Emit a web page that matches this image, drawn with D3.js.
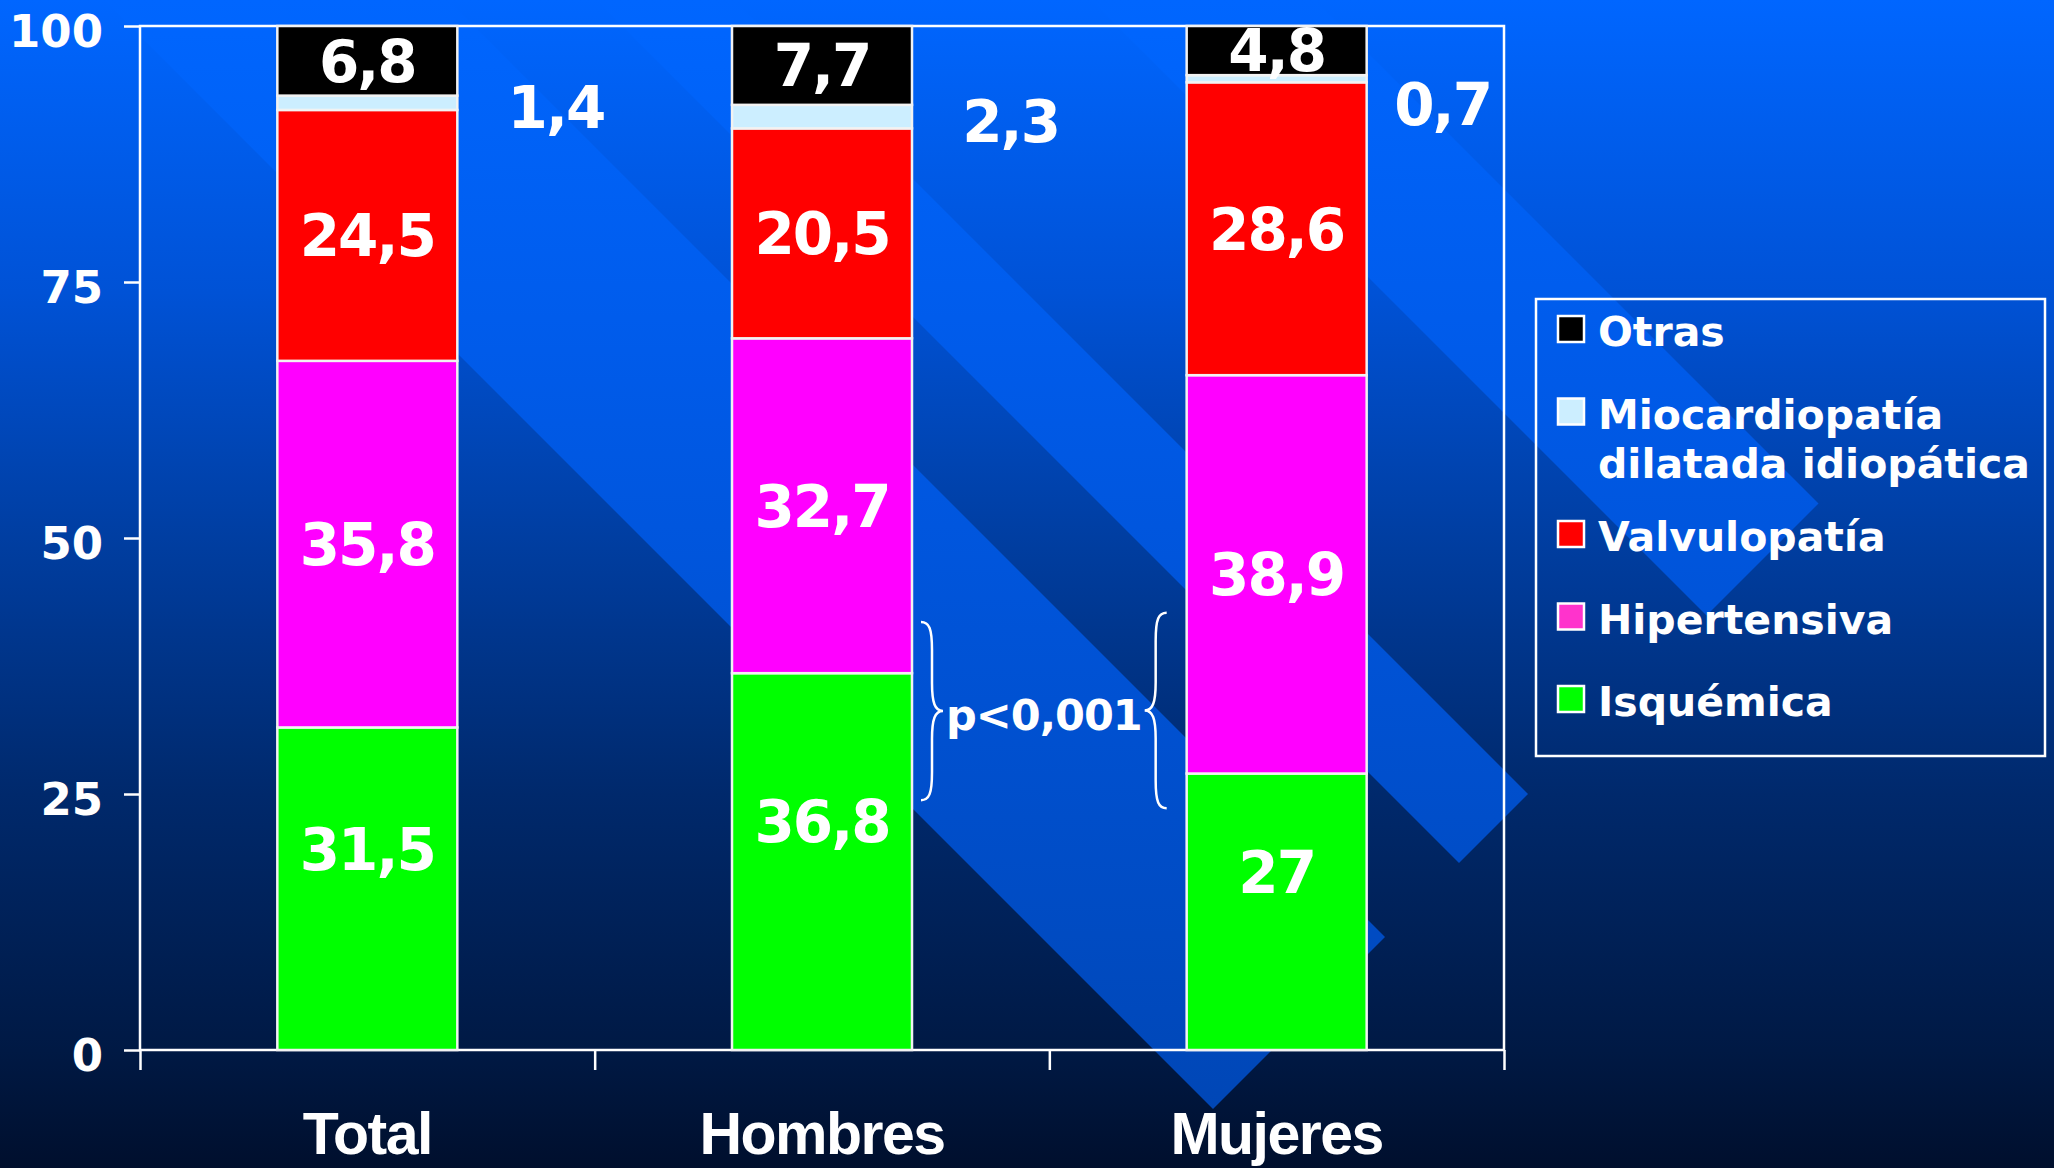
<!DOCTYPE html>
<html>
<head>
<meta charset="utf-8">
<script src="https://cdn.jsdelivr.net/npm/d3@7"></script>
<style>
  body { margin: 0; background: #000f2e; overflow: hidden; }
  svg { display: block; }
</style>
</head>
<body>
<div id="chart"></div>
<script>
const width = 2054, height = 1168;

// data (%)
const categories = ["Total", "Hombres", "Mujeres"];
const seriesNames = ["Isquémica", "Hipertensiva", "Valvulopatía", "Miocardiopatía dilatada idiopática", "Otras"];
const isquemica = [31.5, 36.8, 27];
const hipertensiva = [35.8, 32.7, 38.9];
const valvulopatia = [24.5, 20.5, 28.6];
const miocardiopatia = [1.4, 2.3, 0.7];
const otras = [6.8, 7.7, 4.8];
const yTicks = [0, 25, 50, 75, 100];
const barColors = ["#00ff00", "#ff00ff", "#ff0000", "#cceeff", "#000000"];
const legendColors = ["#00ff00", "#ff33cc", "#ff0000", "#cceeff", "#000000"];
const pText = "p<0,001";

const numFont = "'DejaVu Sans', Verdana, sans-serif";
const catFont = "'Liberation Sans', Arial, sans-serif";

const table = categories.map(function(c, i) {
  return {
    cat: c,
    [seriesNames[0]]: isquemica[i],
    [seriesNames[1]]: hipertensiva[i],
    [seriesNames[2]]: valvulopatia[i],
    [seriesNames[3]]: miocardiopatia[i],
    [seriesNames[4]]: otras[i]
  };
});
const stacked = d3.stack().keys(seriesNames)(table);
const fmt = v => String(v).replace(".", ",");

const plot = {left: 140, right: 1504, top: 26, bottom: 1050};
const x = d3.scaleBand().domain(categories).range([plot.left, plot.right]);
const y = d3.scaleLinear().domain([0, 100]).range([plot.bottom, plot.top]);
const barW = 180;
const barX = c => x(c) + (x.bandwidth() - barW) / 2;

const svg = d3.select("#chart").append("svg")
    .attr("width", width)
    .attr("height", height);

// background
const defs = svg.append("defs");
const bg = defs.append("linearGradient").attr("id", "bg")
    .attr("gradientUnits", "userSpaceOnUse")
    .attr("x1", 0).attr("y1", 0).attr("x2", 0).attr("y2", height);
[[0, "#0066ff"], [0.25, "#0052d6"], [0.47, "#003d9f"], [0.68, "#00296c"], [0.9, "#001944"], [1, "#000f2d"]]
  .forEach(s => bg.append("stop").attr("offset", s[0]).attr("stop-color", s[1]));
const bandGrad = defs.append("linearGradient").attr("id", "bandGrad")
    .attr("gradientUnits", "userSpaceOnUse")
    .attr("x1", 0).attr("y1", 0).attr("x2", 0).attr("y2", height);
[[0, "#0066ff"], [0.3, "#005bea"], [0.6, "#0051d2"], [1, "#0045b2"]]
  .forEach(s => bandGrad.append("stop").attr("offset", s[0]).attr("stop-color", s[1]));

svg.append("rect").attr("width", width).attr("height", height).attr("fill", "url(#bg)");

// diagonal template stripes: lines y = x + c, all ending on x + y = capSum
const capSum = 2322;
const stripes = [[-448, -104], [-734, -596], [-1315, -1091]];
const corner = (s, c) => [(s - c) / 2, (s + c) / 2];
svg.append("g").selectAll("polygon")
  .data(stripes)
  .enter().append("polygon")
    .attr("points", d => [corner(-400, d[0]), corner(capSum, d[0]), corner(capSum, d[1]), corner(-400, d[1])]
        .map(p => p.join(",")).join(" "))
    .attr("fill", "url(#bandGrad)");

// plot frame
svg.append("rect")
    .attr("x", plot.left).attr("y", plot.top)
    .attr("width", plot.right - plot.left).attr("height", plot.bottom - plot.top)
    .attr("fill", "none").attr("stroke", "#ffffff").attr("stroke-width", 2.5);

// y axis
const yAxis = svg.append("g")
    .attr("transform", "translate(" + plot.left + ",0)")
    .call(d3.axisLeft(y).tickValues(yTicks).tickSize(16).tickSizeOuter(0).tickPadding(21));
yAxis.select(".domain").remove();
yAxis.selectAll("line").attr("stroke", "#ffffff").attr("stroke-width", 2.5);
yAxis.selectAll("text")
    .attr("dy", "0.45em")
    .attr("fill", "#ffffff")
    .style("font-family", numFont)
    .style("font-weight", "bold")
    .style("font-size", "45px");

// category boundary ticks
const xEdges = d3.scaleLinear().domain([0, categories.length]).range([plot.left, plot.right]);
const xTicks = svg.append("g")
    .attr("transform", "translate(0," + plot.bottom + ")")
    .call(d3.axisBottom(xEdges).tickValues(d3.range(categories.length + 1)).tickSize(20).tickFormat(""));
xTicks.select(".domain").remove();
xTicks.selectAll("line").attr("stroke", "#ffffff").attr("stroke-width", 2.5);

// category labels
const xAxis = svg.append("g")
    .attr("transform", "translate(0," + plot.bottom + ")")
    .call(d3.axisBottom(x).tickSize(0).tickPadding(62));
xAxis.select(".domain").remove();
xAxis.selectAll("text")
    .attr("fill", "#ffffff")
    .style("font-family", catFont)
    .style("font-weight", "bold")
    .style("font-size", "59px")
    .style("letter-spacing", "-1.5px");

// stacked bars
const layers = svg.append("g").selectAll("g")
  .data(stacked)
  .enter().append("g")
    .attr("fill", (d, i) => barColors[i]);

layers.selectAll("rect")
  .data(d => d)
  .enter().append("rect")
    .attr("x", d => barX(d.data.cat))
    .attr("y", d => y(d[1]))
    .attr("width", barW)
    .attr("height", d => y(d[0]) - y(d[1]))
    .attr("stroke", "#f2f2f2")
    .attr("stroke-width", 2.5);

// value labels
stacked.forEach(function(layer) {
  const key = layer.key;
  layer.forEach(function(d) {
    const v = d.data[key];
    const mid = (d[0] + d[1]) / 2;
    let tx = barX(d.data.cat) + barW / 2, ty = y(mid), anchor = "middle";
    if (key === seriesNames[3]) {
      // small segment: label sits outside, to the right of the bar
      tx = Math.min(barX(d.data.cat) + barW + 147, plot.right - 13);
      ty = Math.max(y(mid), 100) + 4;
      anchor = "end";
    } else if (key === seriesNames[0]) {
      ty = y(mid) - 40;
    }
    svg.append("text")
        .attr("x", tx)
        .attr("y", ty)
        .attr("dy", "0.36em")
        .attr("text-anchor", anchor)
        .attr("fill", "#ffffff")
        .style("font-family", numFont)
        .style("font-weight", "bold")
        .style("font-size", "58px")
        .style("letter-spacing", "-2px")
        .text(fmt(v));
  });
});

// significance braces between Hombres and Mujeres
function brace(x0, y0, y1, dir) {
  const w = 22, r = 28;
  const xm = x0 + dir * w / 2, xt = x0 + dir * w, ym = (y0 + y1) / 2;
  return "M" + x0 + "," + y0 +
    "C" + (x0 + dir * 8) + "," + y0 + " " + xm + "," + (y0 + 6) + " " + xm + "," + (y0 + r) +
    "L" + xm + "," + (ym - r) +
    "C" + xm + "," + (ym - 8) + " " + (xm + dir * 3) + "," + ym + " " + xt + "," + ym +
    "C" + (xm + dir * 3) + "," + ym + " " + xm + "," + (ym + 8) + " " + xm + "," + (ym + r) +
    "L" + xm + "," + (y1 - r) +
    "C" + xm + "," + (y1 - 6) + " " + (x0 + dir * 8) + "," + y1 + " " + x0 + "," + y1;
}
const leftX = barX("Hombres") + barW + 9;
const rightX = barX("Mujeres") - 20;
svg.append("path")
    .attr("d", brace(leftX, y(41.8), y(24.4), 1))
    .attr("fill", "none").attr("stroke", "#ffffff").attr("stroke-width", 2.5);
svg.append("path")
    .attr("d", brace(rightX, y(42.7), y(23.6), -1))
    .attr("fill", "none").attr("stroke", "#ffffff").attr("stroke-width", 2.5);
svg.append("text")
    .attr("x", (leftX + 22 + rightX - 22) / 2)
    .attr("y", 730)
    .attr("text-anchor", "middle")
    .attr("fill", "#ffffff")
    .style("font-family", numFont)
    .style("font-weight", "bold")
    .style("font-size", "43px")
    .style("letter-spacing", "-1px")
    .text(pText);

// legend
const legend = svg.append("g");
legend.append("rect")
    .attr("x", 1536).attr("y", 299)
    .attr("width", 509).attr("height", 457)
    .attr("fill", "none").attr("stroke", "#ffffff").attr("stroke-width", 2.5);

const legendItems = seriesNames.map((n, i) => ({name: n, color: legendColors[i]})).reverse();
let rowY = 329;
legendItems.forEach(function(item) {
  const lines = item.name.replace(" ", "\n").split("\n");
  legend.append("rect")
      .attr("x", 1558).attr("y", rowY - 13)
      .attr("width", 26).attr("height", 26)
      .attr("fill", item.color)
      .attr("stroke", "#ffffff").attr("stroke-width", 2.5);
  const t = legend.append("text")
      .attr("x", 1598).attr("y", rowY + 17)
      .attr("fill", "#ffffff")
      .style("font-family", numFont)
      .style("font-weight", "bold")
      .style("font-size", "41px");
  lines.forEach(function(l, k) {
    t.append("tspan").attr("x", 1598).attr("dy", k === 0 ? 0 : 49).text(l);
  });
  rowY += 82.5 + (lines.length - 1) * 40;
});
</script>
</body>
</html>
